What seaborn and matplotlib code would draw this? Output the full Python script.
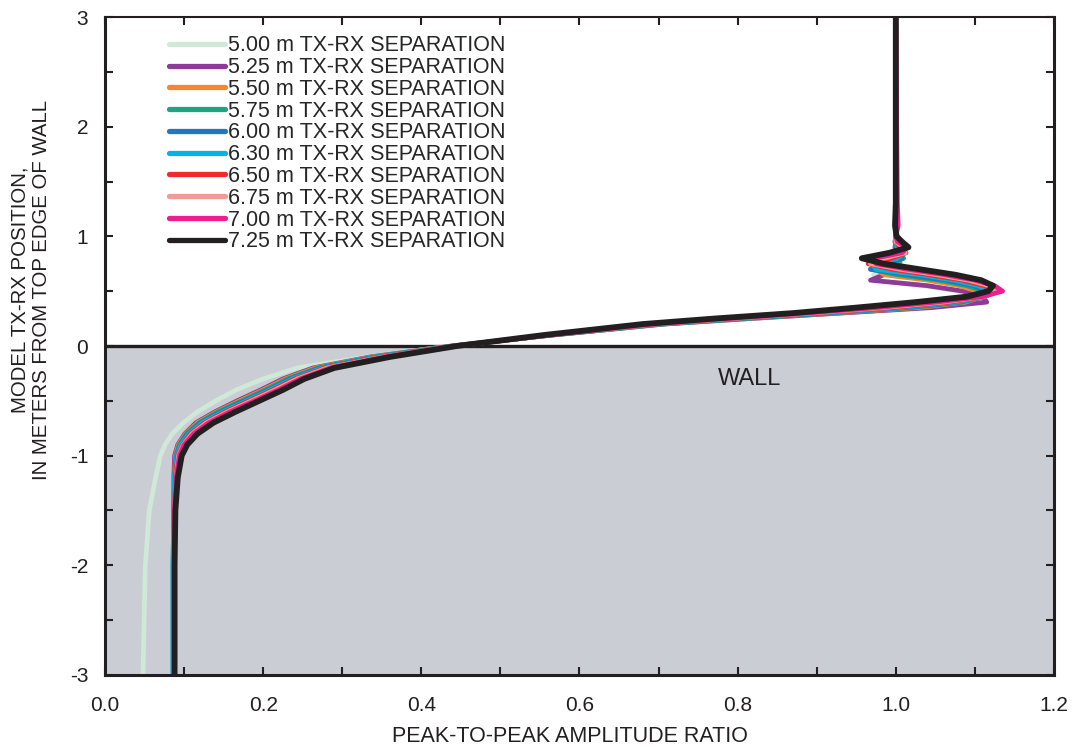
import numpy as np
import pandas as pd
import matplotlib
matplotlib.use("Agg")
import matplotlib.pyplot as plt
import seaborn as sns
from matplotlib.ticker import MultipleLocator

# shared position grid (m from top edge of wall)
pos = [3.0, 1.3, 1.1, 1.0, 0.95, 0.9, 0.85, 0.8, 0.75, 0.7, 0.65, 0.6, 0.55, 0.5,
       0.45, 0.4, 0.35, 0.3, 0.25, 0.2, 0.1, 0.0, -0.1, -0.2, -0.3, -0.4, -0.5,
       -0.6, -0.7, -0.8, -0.9, -1.0, -1.2, -1.5, -2.0, -3.0]

# peak-to-peak amplitude ratio per TX-RX separation
amp_500 = [1.000, 1.000, 1.000, 1.000, 1.000, 1.000, 1.001, 1.004, 1.006, 0.990, 0.972, 0.975, 1.035, 1.080,
           1.105, 1.108, 1.040, 0.928, 0.814, 0.706, 0.566, 0.437, 0.330, 0.243, 0.200, 0.166, 0.140,
           0.117, 0.099, 0.085, 0.076, 0.070, 0.064, 0.056, 0.051, 0.048]
amp_525 = [1.000, 1.000, 1.000, 1.000, 1.000, 1.000, 1.001, 1.006, 1.004, 0.995, 0.985, 0.968, 1.040, 1.085,
           1.110, 1.115, 1.045, 0.930, 0.815, 0.707, 0.566, 0.438, 0.335, 0.263, 0.225, 0.197, 0.167,
           0.139, 0.115, 0.101, 0.092, 0.088, 0.087, 0.087, 0.087, 0.087]
amp_550 = [1.000, 1.000, 1.000, 1.000, 1.000, 0.999, 1.002, 1.008, 1.000, 0.975, 0.985, 1.040, 1.080, 1.104,
           1.110, 1.088, 1.028, 0.920, 0.812, 0.705, 0.565, 0.439, 0.338, 0.266, 0.228, 0.200, 0.170,
           0.141, 0.117, 0.102, 0.093, 0.089, 0.088, 0.088, 0.088, 0.088]
amp_575 = [1.000, 1.000, 1.000, 1.000, 1.000, 0.999, 1.004, 1.010, 0.995, 0.968, 1.002, 1.054, 1.090, 1.112,
           1.112, 1.085, 1.020, 0.915, 0.808, 0.703, 0.564, 0.440, 0.340, 0.269, 0.231, 0.203, 0.173,
           0.143, 0.119, 0.103, 0.094, 0.090, 0.088, 0.087, 0.087, 0.087]
amp_600 = [1.000, 1.000, 1.000, 1.000, 1.000, 1.000, 1.007, 1.008, 0.985, 0.968, 1.015, 1.064, 1.098, 1.116,
           1.112, 1.080, 1.012, 0.910, 0.804, 0.701, 0.563, 0.441, 0.343, 0.272, 0.234, 0.206, 0.176,
           0.146, 0.121, 0.104, 0.095, 0.090, 0.088, 0.087, 0.086, 0.086]
amp_630 = [1.000, 1.000, 1.000, 1.000, 0.999, 1.002, 1.010, 1.002, 0.970, 0.975, 1.030, 1.074, 1.104, 1.120,
           1.112, 1.075, 1.005, 0.905, 0.800, 0.699, 0.562, 0.442, 0.346, 0.275, 0.237, 0.209, 0.179,
           0.149, 0.123, 0.106, 0.096, 0.091, 0.088, 0.087, 0.086, 0.086]
amp_650 = [1.000, 1.000, 1.001, 1.000, 0.999, 1.006, 1.013, 0.995, 0.965, 0.995, 1.042, 1.084, 1.112, 1.124,
           1.112, 1.068, 0.995, 0.898, 0.795, 0.696, 0.561, 0.443, 0.349, 0.278, 0.240, 0.212, 0.182,
           0.152, 0.126, 0.108, 0.098, 0.092, 0.089, 0.088, 0.088, 0.088]
amp_675 = [1.000, 1.001, 1.002, 1.000, 1.000, 1.010, 1.012, 0.985, 0.968, 1.005, 1.052, 1.092, 1.118, 1.130,
           1.112, 1.060, 0.985, 0.892, 0.790, 0.693, 0.560, 0.444, 0.352, 0.281, 0.243, 0.215, 0.185,
           0.155, 0.128, 0.110, 0.099, 0.093, 0.090, 0.088, 0.087, 0.087]
amp_700 = [1.000, 1.002, 1.003, 1.000, 1.002, 1.014, 1.008, 0.972, 0.975, 1.015, 1.062, 1.100, 1.125, 1.135,
           1.110, 1.050, 0.975, 0.885, 0.785, 0.690, 0.560, 0.445, 0.355, 0.285, 0.247, 0.219, 0.189,
           0.158, 0.131, 0.112, 0.100, 0.094, 0.090, 0.088, 0.087, 0.087]
amp_725 = [1.000, 1.000, 0.999, 1.001, 1.008, 1.016, 0.992, 0.957, 0.985, 1.030, 1.075, 1.108, 1.123, 1.117,
           1.090, 1.025, 0.950, 0.870, 0.770, 0.680, 0.555, 0.445, 0.360, 0.290, 0.252, 0.225, 0.195,
           0.165, 0.137, 0.117, 0.104, 0.097, 0.092, 0.089, 0.088, 0.088]

labels = ["5.00 m TX-RX SEPARATION", "5.25 m TX-RX SEPARATION", "5.50 m TX-RX SEPARATION",
          "5.75 m TX-RX SEPARATION", "6.00 m TX-RX SEPARATION", "6.30 m TX-RX SEPARATION",
          "6.50 m TX-RX SEPARATION", "6.75 m TX-RX SEPARATION", "7.00 m TX-RX SEPARATION",
          "7.25 m TX-RX SEPARATION"]
series = [amp_500, amp_525, amp_550, amp_575, amp_600, amp_630, amp_650, amp_675, amp_700, amp_725]
colors = ["#cfe8d8", "#8e3b97", "#f4872f", "#1fa482", "#1f79c0", "#00b5e2",
          "#ee2b2d", "#f29b94", "#ec1f8f", "#231f20"]

sns.set_style("ticks")
plt.rcParams["font.family"] = ["Liberation Sans", "DejaVu Sans"]
plt.rcParams["axes.unicode_minus"] = False

fig = plt.figure(figsize=(10.77, 7.49), dpi=100)
ax = fig.add_axes([0.0975, 0.0988, 0.8811, 0.8785])

# wall
ax.axhspan(-3, 0, color="#cbcdd4", zorder=0, lw=0)
ax.axhline(0, color="#231f20", lw=2.4, zorder=1)

for amp, lab, col in zip(series, labels, colors):
    lw = 4.2 if col == "#231f20" else 3.4
    sns.lineplot(x=amp, y=pos, sort=False, estimator=None, color=col, lw=lw,
                 label=lab, ax=ax, solid_capstyle="round", solid_joinstyle="round", zorder=2)

ax.text(0.815, -0.3, "WALL", fontsize=17, ha="center", va="center", color="#231f20")

ax.set_xlim(0, 1.2)
ax.set_ylim(-3, 3)
ax.xaxis.set_major_locator(MultipleLocator(0.2))
ax.xaxis.set_minor_locator(MultipleLocator(0.1))
ax.yaxis.set_major_locator(MultipleLocator(1))
ax.yaxis.set_minor_locator(MultipleLocator(0.5))
ax.xaxis.set_major_formatter(matplotlib.ticker.FormatStrFormatter("%.1f"))
ax.yaxis.set_major_formatter(matplotlib.ticker.FormatStrFormatter("%d"))
ax.tick_params(which="both", direction="in", top=True, right=True, length=6, width=1.5,
               color="#231f20", labelsize=15, labelcolor="#231f20")
ax.tick_params(axis="x", which="major", pad=15)
ax.tick_params(axis="y", which="major", pad=12)

for side, sp in ax.spines.items():
    sp.set_color("#231f20")
    sp.set_linewidth(2.2 if side != "top" else 1.5)
    sp.set_zorder(5)

ax.set_xlabel("PEAK-TO-PEAK AMPLITUDE RATIO", fontsize=15.5, color="#231f20")
ax.set_ylabel("MODEL TX-RX POSITION,\nIN METERS FROM TOP EDGE OF WALL", fontsize=14.7,
              color="#231f20", linespacing=1.15)
ax.xaxis.set_label_coords(0.49, -0.078)
ax.yaxis.set_label_coords(-0.057, 0.585)

leg = ax.legend(loc="upper left", bbox_to_anchor=(0.058, 0.985), frameon=False, fontsize=15.5,
                handlelength=2.6, handletextpad=0.15, labelspacing=0.035, borderaxespad=0)
for h in leg.get_lines():
    h.set_linewidth(3.8)

fig.savefig("out.png", dpi=100)
